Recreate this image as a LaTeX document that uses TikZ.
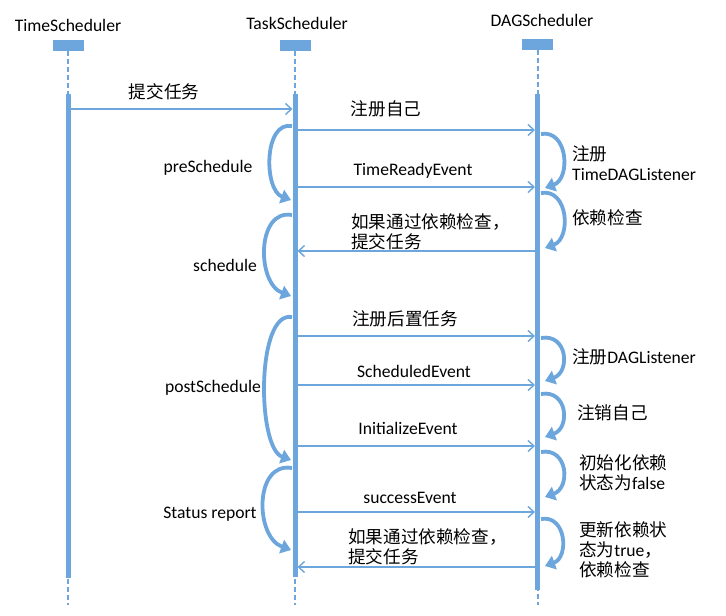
\documentclass[tikz,border=0pt]{standalone}
\usepackage{fontspec}
\setmainfont{Carlito}
\newfontfamily\cjk{Noto Sans CJK SC}
\usetikzlibrary{arrows.meta}
\definecolor{seqblue}{RGB}{108,166,220}

\begin{document}
\begin{tikzpicture}[x=1pt, y=-1pt, font=\fontsize{17.6}{20}\selectfont,
    headbox/.style={fill=seqblue, minimum width=31pt, minimum height=11pt, inner sep=0pt},
    lifeline/.style={seqblue, line width=2pt, dash pattern=on 5pt off 3pt},
    msg/.style={seqblue, line width=1.4pt, -{Straight Barb[length=6pt,width=11pt]}},
    selfarc/.style={seqblue, line width=3.8pt, -{Triangle[length=10pt,width=14pt]}},
    lbl/.style={inner sep=1pt, align=left}]

    % Khung hình
    \useasboundingbox (0,0) rectangle (726,616);

    % Các đối tượng
    \node (time) at (68,25) {TimeScheduler};
    \node (task) at (297,23) {TaskScheduler};
    \node (dag)  at (542,20) {DAGScheduler};
    \node[headbox] (timehd) at (68,45) {};
    \node[headbox] (taskhd) at (295,45) {};
    \node[headbox] (daghd)  at (537.5,44) {};

    % Đường đời (nét đứt)
    \coordinate (timeend) at (68,605);
    \coordinate (taskend) at (295,605);
    \coordinate (dagend)  at (537.5,605);
    \draw[lifeline] (timehd.south) -- (timeend);
    \draw[lifeline] (taskhd.south) -- (taskend);
    \draw[lifeline] (daghd.south) -- (dagend);

    % Thanh kích hoạt
    \fill[seqblue] (65.5,94) rectangle (70.5,578);
    \fill[seqblue] (292.5,94) rectangle (297.5,577);
    \fill[seqblue] (535,94) rectangle (540,590);

    % Điểm đầu/cuối của các thông điệp
    \coordinate (tm1) at (70.5,109);
    \coordinate (ta1) at (292.5,109);
    \foreach \n/\y in {2/130, 3/187, 4/251, 5/336, 6/385, 7/446, 8/512, 9/567} {
        \coordinate (ta\n) at (297.5,\y);
        \coordinate (da\n) at (535,\y);
    }

    % Thông điệp
    \draw[msg] (tm1) -- (ta1);
    \draw[msg] (ta2) -- (da2);
    \draw[msg] (ta3) -- (da3);
    \draw[msg] (da4) -- (ta4);
    \draw[msg] (ta5) -- (da5);
    \draw[msg] (ta6) -- (da6);
    \draw[msg] (ta7) -- (da7);
    \draw[msg] (ta8) -- (da8);
    \draw[msg] (da9) -- (ta9);

    % Nhãn thông điệp
    \node[lbl] (m1) at (164,92) {\cjk 提交任务};
    \node[lbl] (m2) at (386,109) {\cjk 注册自己};
    \node[lbl] (m3) at (413,171) {TimeReadyEvent};
    \node[lbl, anchor=west] (m4) at (350,232) {\cjk 如果通过依赖检查，\\\cjk 提交任务};
    \node[lbl] (m5) at (405,319) {\cjk 注册后置任务};
    \node[lbl] (m6) at (414,371) {ScheduledEvent};
    \node[lbl] (m7) at (408,428) {InitializeEvent};
    \node[lbl] (m8) at (410,498) {successEvent};
    \node[lbl, anchor=west] (m9) at (347,547) {\cjk 如果通过依赖检查，\\\cjk 提交任务};

    % Tự gọi của TaskScheduler
    \foreach \n/\a/\b/\l in {pre/126/200/1.0, sch/215/296/1.15, post/317/460/0.65, stat/468/550/1.2} {
        \coordinate (\n1) at (292,\a);
        \coordinate (\n2) at (291,\b);
        \draw[selfarc] (\n1) to[out=170, in=160, looseness=\l] (\n2);
    }
    \node (pre)  at (208,168) {preSchedule};
    \node (sch)  at (225,265) {schedule};
    \node (post) at (213,388) {postSchedule};
    \node (stat) at (210,514) {Status report};

    % Tự gọi của DAGScheduler
    \foreach \n/\a/\b/\l in {d1/134/188/1.3, d2/193/248/1.3, d3/338/381/1.6, d4/394/437/1.6, d5/452/497/1.55, d6/519/566/1.4} {
        \coordinate (\n s) at (541,\a);
        \coordinate (\n e) at (545,\b);
        \draw[selfarc] (\n s) to[out=10, in=20, looseness=\l] (\n e);
    }
    \node[lbl, anchor=west] (l1) at (571,163) {\cjk 注册\\TimeDAGListener};
    \node[lbl, anchor=west] (l2) at (571,218) {\cjk 依赖检查};
    \node[lbl, anchor=west] (l3) at (571,357) {{\cjk 注册}DAGListener};
    \node[lbl, anchor=west] (l4) at (576,413) {\cjk 注销自己};
    \node[lbl, anchor=west] (l5) at (578,473) {\cjk 初始化依赖\\{\cjk 状态为}false};
    \node[lbl, anchor=west] (l6) at (578,550) {\cjk 更新依赖状\\{\cjk 态为}true{\cjk ，}\\\cjk 依赖检查};

\end{tikzpicture}
\end{document}
